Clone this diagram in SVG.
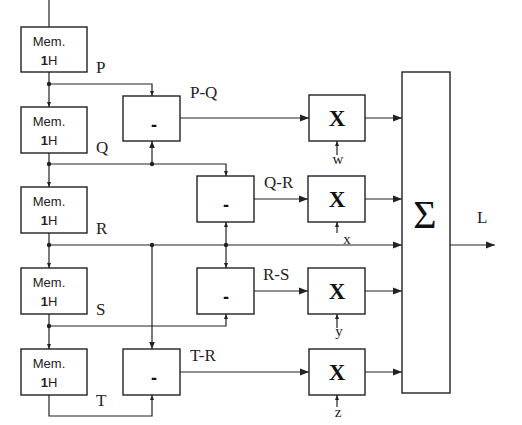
<svg xmlns="http://www.w3.org/2000/svg" width="522" height="425" viewBox="0 0 522 425">
<defs>
<marker id="sa" viewBox="0 0 10 10" refX="10" refY="5" markerWidth="5" markerHeight="5" markerUnits="userSpaceOnUse" orient="auto"><path d="M0 1 L10 5 L0 9 Z" fill="#222"/></marker>
<marker id="la" viewBox="0 0 10 10" refX="10" refY="5" markerWidth="9" markerHeight="9" markerUnits="userSpaceOnUse" orient="auto"><path d="M0 1 L10 5 L0 9 Z" fill="#222"/></marker>
<marker id="ma" viewBox="0 0 10 10" refX="10" refY="5" markerWidth="7" markerHeight="7" markerUnits="userSpaceOnUse" orient="auto"><path d="M0 1 L10 5 L0 9 Z" fill="#222"/></marker>
</defs>
<style>
.box{fill:#fff;stroke:#222;stroke-width:1.4}
.ln{fill:none;stroke:#222;stroke-width:1.2}
.s{marker-end:url(#sa)}
.l{marker-end:url(#la)}
.m{marker-end:url(#ma)}
.dot{fill:#222}
.mem{font-family:"Liberation Sans",Arial,sans-serif;font-size:13px;fill:#222;text-anchor:middle}
.lab{font-family:"Liberation Serif","Times New Roman",serif;font-size:17px;fill:#222}
.wt{font-family:"Liberation Serif","Times New Roman",serif;font-size:15px;fill:#222;text-anchor:middle}
.mul{font-family:"Liberation Serif","Times New Roman",serif;font-size:23px;font-weight:bold;fill:#111;text-anchor:middle}
.sub{font-family:"Liberation Sans",Arial,sans-serif;font-size:18px;font-weight:bold;fill:#111;text-anchor:middle}
</style>
<rect width="522" height="425" fill="#fff"/>
<g id="connectors">
<path class="ln" d="M49 0 V27"/>
<path class="ln s" d="M49 72 V107"/>
<path class="ln s" d="M49 84 H152 V96"/>
<path class="ln s" d="M49 153 V187"/>
<path class="ln s" d="M49 164 H226 V176"/>
<path class="ln m" d="M152 164 V141"/>
<path class="ln s" d="M49 233 V268"/>
<path class="ln l" d="M49 245 H402"/>
<path class="ln m" d="M152 245 V349"/>
<path class="ln s" d="M226 245 V222"/>
<path class="ln s" d="M226 245 V268"/>
<path class="ln s" d="M49 314 V349"/>
<path class="ln s" d="M49 326 H226 V314"/>
<path class="ln s" d="M49 395 V416 H152 V395"/>
<path class="ln l" d="M180 118 H309"/>
<path class="ln l" d="M254 199 H308"/>
<path class="ln l" d="M254 291 H308"/>
<path class="ln l" d="M180 372 H309"/>
<path class="ln l" d="M365 118 H402"/>
<path class="ln l" d="M365 199 H402"/>
<path class="ln l" d="M365 291 H402"/>
<path class="ln l" d="M365 372 H402"/>
<path class="ln s" d="M337 155 V141"/>
<path class="ln s" d="M337 233 V222"/>
<path class="ln s" d="M337 328 V314"/>
<path class="ln s" d="M337 407 V395"/>
<path class="ln l" d="M450 245 H495"/>
<circle class="dot" cx="49" cy="84" r="2.2"/>
<circle class="dot" cx="49" cy="164" r="2.2"/>
<circle class="dot" cx="152" cy="164" r="2.2"/>
<circle class="dot" cx="49" cy="245" r="2.2"/>
<circle class="dot" cx="152" cy="245" r="2.2"/>
<circle class="dot" cx="226" cy="245" r="2.2"/>
<circle class="dot" cx="49" cy="326" r="2.2"/>
</g>
<g id="mem1"><rect class="box" x="21" y="27" width="66" height="45"/><text class="mem" x="49" y="46">Mem.</text><text class="mem" x="49" y="65"><tspan font-weight="bold">1</tspan>H</text></g>
<g id="mem2"><rect class="box" x="21" y="107" width="66" height="46"/><text class="mem" x="49" y="126">Mem.</text><text class="mem" x="49" y="145"><tspan font-weight="bold">1</tspan>H</text></g>
<g id="mem3"><rect class="box" x="21" y="187" width="66" height="46"/><text class="mem" x="49" y="206">Mem.</text><text class="mem" x="49" y="225"><tspan font-weight="bold">1</tspan>H</text></g>
<g id="mem4"><rect class="box" x="21" y="268" width="66" height="46"/><text class="mem" x="49" y="287">Mem.</text><text class="mem" x="49" y="306"><tspan font-weight="bold">1</tspan>H</text></g>
<g id="mem5"><rect class="box" x="21" y="349" width="66" height="46"/><text class="mem" x="49" y="368">Mem.</text><text class="mem" x="49" y="387"><tspan font-weight="bold">1</tspan>H</text></g>
<g id="labels">
<text class="lab" x="96" y="73">P</text>
<text class="lab" x="96" y="153">Q</text>
<text class="lab" x="96" y="234">R</text>
<text class="lab" x="96" y="315">S</text>
<text class="lab" x="96" y="406">T</text>
<text class="lab" x="190" y="98">P-Q</text>
<text class="lab" x="264" y="188">Q-R</text>
<text class="lab" x="263" y="280">R-S</text>
<text class="lab" x="190" y="361">T-R</text>
<text class="lab" x="477" y="223" font-size="15">L</text>
<text class="wt" x="338" y="164">w</text>
<text class="wt" x="347" y="244">x</text>
<text class="wt" x="339" y="336">y</text>
<text class="wt" x="338" y="417">z</text>
</g>
<g id="sub1"><rect class="box" x="123" y="96" width="57" height="45"/><text class="sub" x="154" y="131">-</text></g>
<g id="sub2"><rect class="box" x="197" y="176" width="57" height="46"/><text class="sub" x="226" y="211">-</text></g>
<g id="sub3"><rect class="box" x="197" y="268" width="57" height="46"/><text class="sub" x="226" y="303">-</text></g>
<g id="sub4"><rect class="box" x="123" y="349" width="57" height="46"/><text class="sub" x="154" y="384">-</text></g>
<g id="mul1"><rect class="box" x="309" y="95" width="56" height="46"/><text class="mul" x="337" y="126">X</text></g>
<g id="mul2"><rect class="box" x="308" y="176" width="57" height="46"/><text class="mul" x="337" y="207">X</text></g>
<g id="mul3"><rect class="box" x="308" y="268" width="57" height="46"/><text class="mul" x="337" y="299">X</text></g>
<g id="mul4"><rect class="box" x="309" y="349" width="56" height="46"/><text class="mul" x="337" y="380">X</text></g>
<g id="sum"><rect class="box" x="402" y="72" width="48" height="321" stroke-width="1.8"/><text x="425" y="228" font-family="'Liberation Serif','Times New Roman',serif" font-size="40" fill="#111" text-anchor="middle">Σ</text></g>
</svg>
